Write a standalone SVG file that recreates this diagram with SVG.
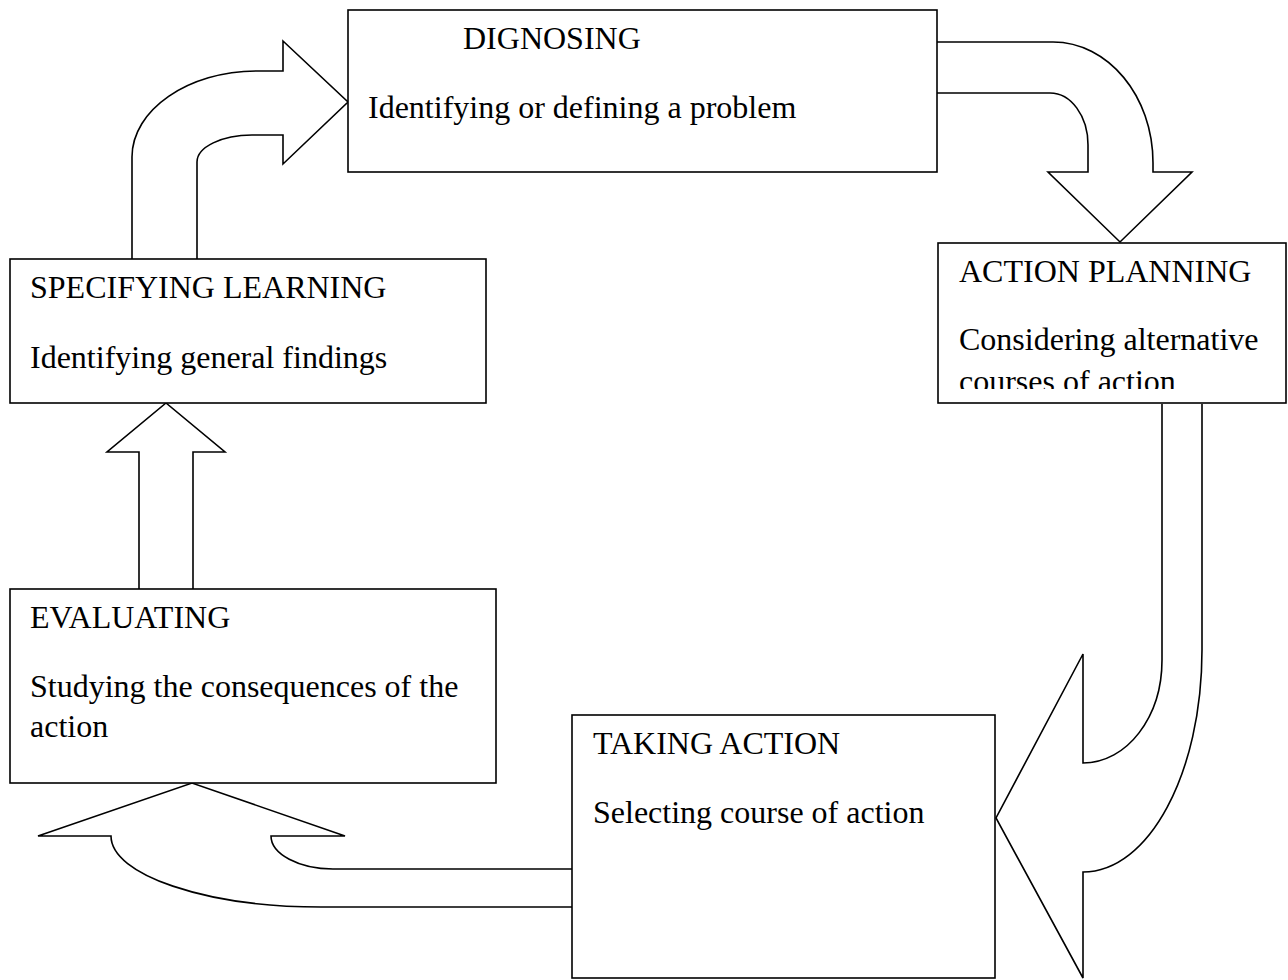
<svg xmlns="http://www.w3.org/2000/svg" width="1288" height="980" viewBox="0 0 1288 980">
<style>
.box{fill:#fff;stroke:#000;stroke-width:1.6}
.arr{fill:#fff;stroke:#000;stroke-width:1.6;stroke-linejoin:miter}
text{font-family:"Liberation Serif","Times New Roman",serif;font-size:32px;fill:#000}
</style>
<defs>
<clipPath id="apclip"><rect x="938" y="243" width="348" height="146"/></clipPath>
</defs>
<rect width="1288" height="980" fill="#fff"/>
<g id="connectors">
<path class="arr" d="M132,259 L132,157 C132,110 188,71 257,71 L283,71 L283,41 L348,102 L283,164 L283,135 L252,135 C222,135 197,147 197,162 L197,259"/>
<path class="arr" d="M937,42 L1053,42 C1108,42 1153,96 1153,163 L1153,172 L1192,172 L1120,242 L1048,172 L1088,172 L1088,145 C1088,116 1071,93 1050,93 L937,93"/>
<path class="arr" d="M1162,404 L1162,660 C1162,717 1127,763 1083,763 L1083,654 L996,818 L1083,978 L1083,872 C1149,872 1202,773 1202,650 L1202,404"/>
<path class="arr" d="M572,907 L321,907 C206,907 111,875 111,836 L38,836 L192,783 L345,836 L271,836 C271,854 299,869 333,869 L572,869"/>
<path class="arr" d="M139,589 L139,452 L107,452 L166,403 L225,452 L193,452 L193,589"/>
</g>
<g id="dignosing">
<rect class="box" x="348" y="10" width="589" height="162"/>
<text x="463" y="49">DIGNOSING</text>
<text x="368" y="118">Identifying or defining a problem</text>
</g>
<g id="action-planning">
<rect class="box" x="938" y="243" width="348" height="160"/>
<text x="959" y="282">ACTION PLANNING</text>
<text x="959" y="350">Considering alternative</text>
<text x="959" y="392" clip-path="url(#apclip)">courses of action</text>
</g>
<g id="taking-action">
<rect class="box" x="572" y="715" width="423" height="263"/>
<text x="593" y="754">TAKING ACTION</text>
<text x="593" y="823">Selecting course of action</text>
</g>
<g id="evaluating">
<rect class="box" x="10" y="589" width="486" height="194"/>
<text x="30" y="628">EVALUATING</text>
<text x="30" y="697">Studying the consequences of the</text>
<text x="30" y="737">action</text>
</g>
<g id="specifying-learning">
<rect class="box" x="10" y="259" width="476" height="144"/>
<text x="30" y="298">SPECIFYING LEARNING</text>
<text x="30" y="368">Identifying general findings</text>
</g>
</svg>
